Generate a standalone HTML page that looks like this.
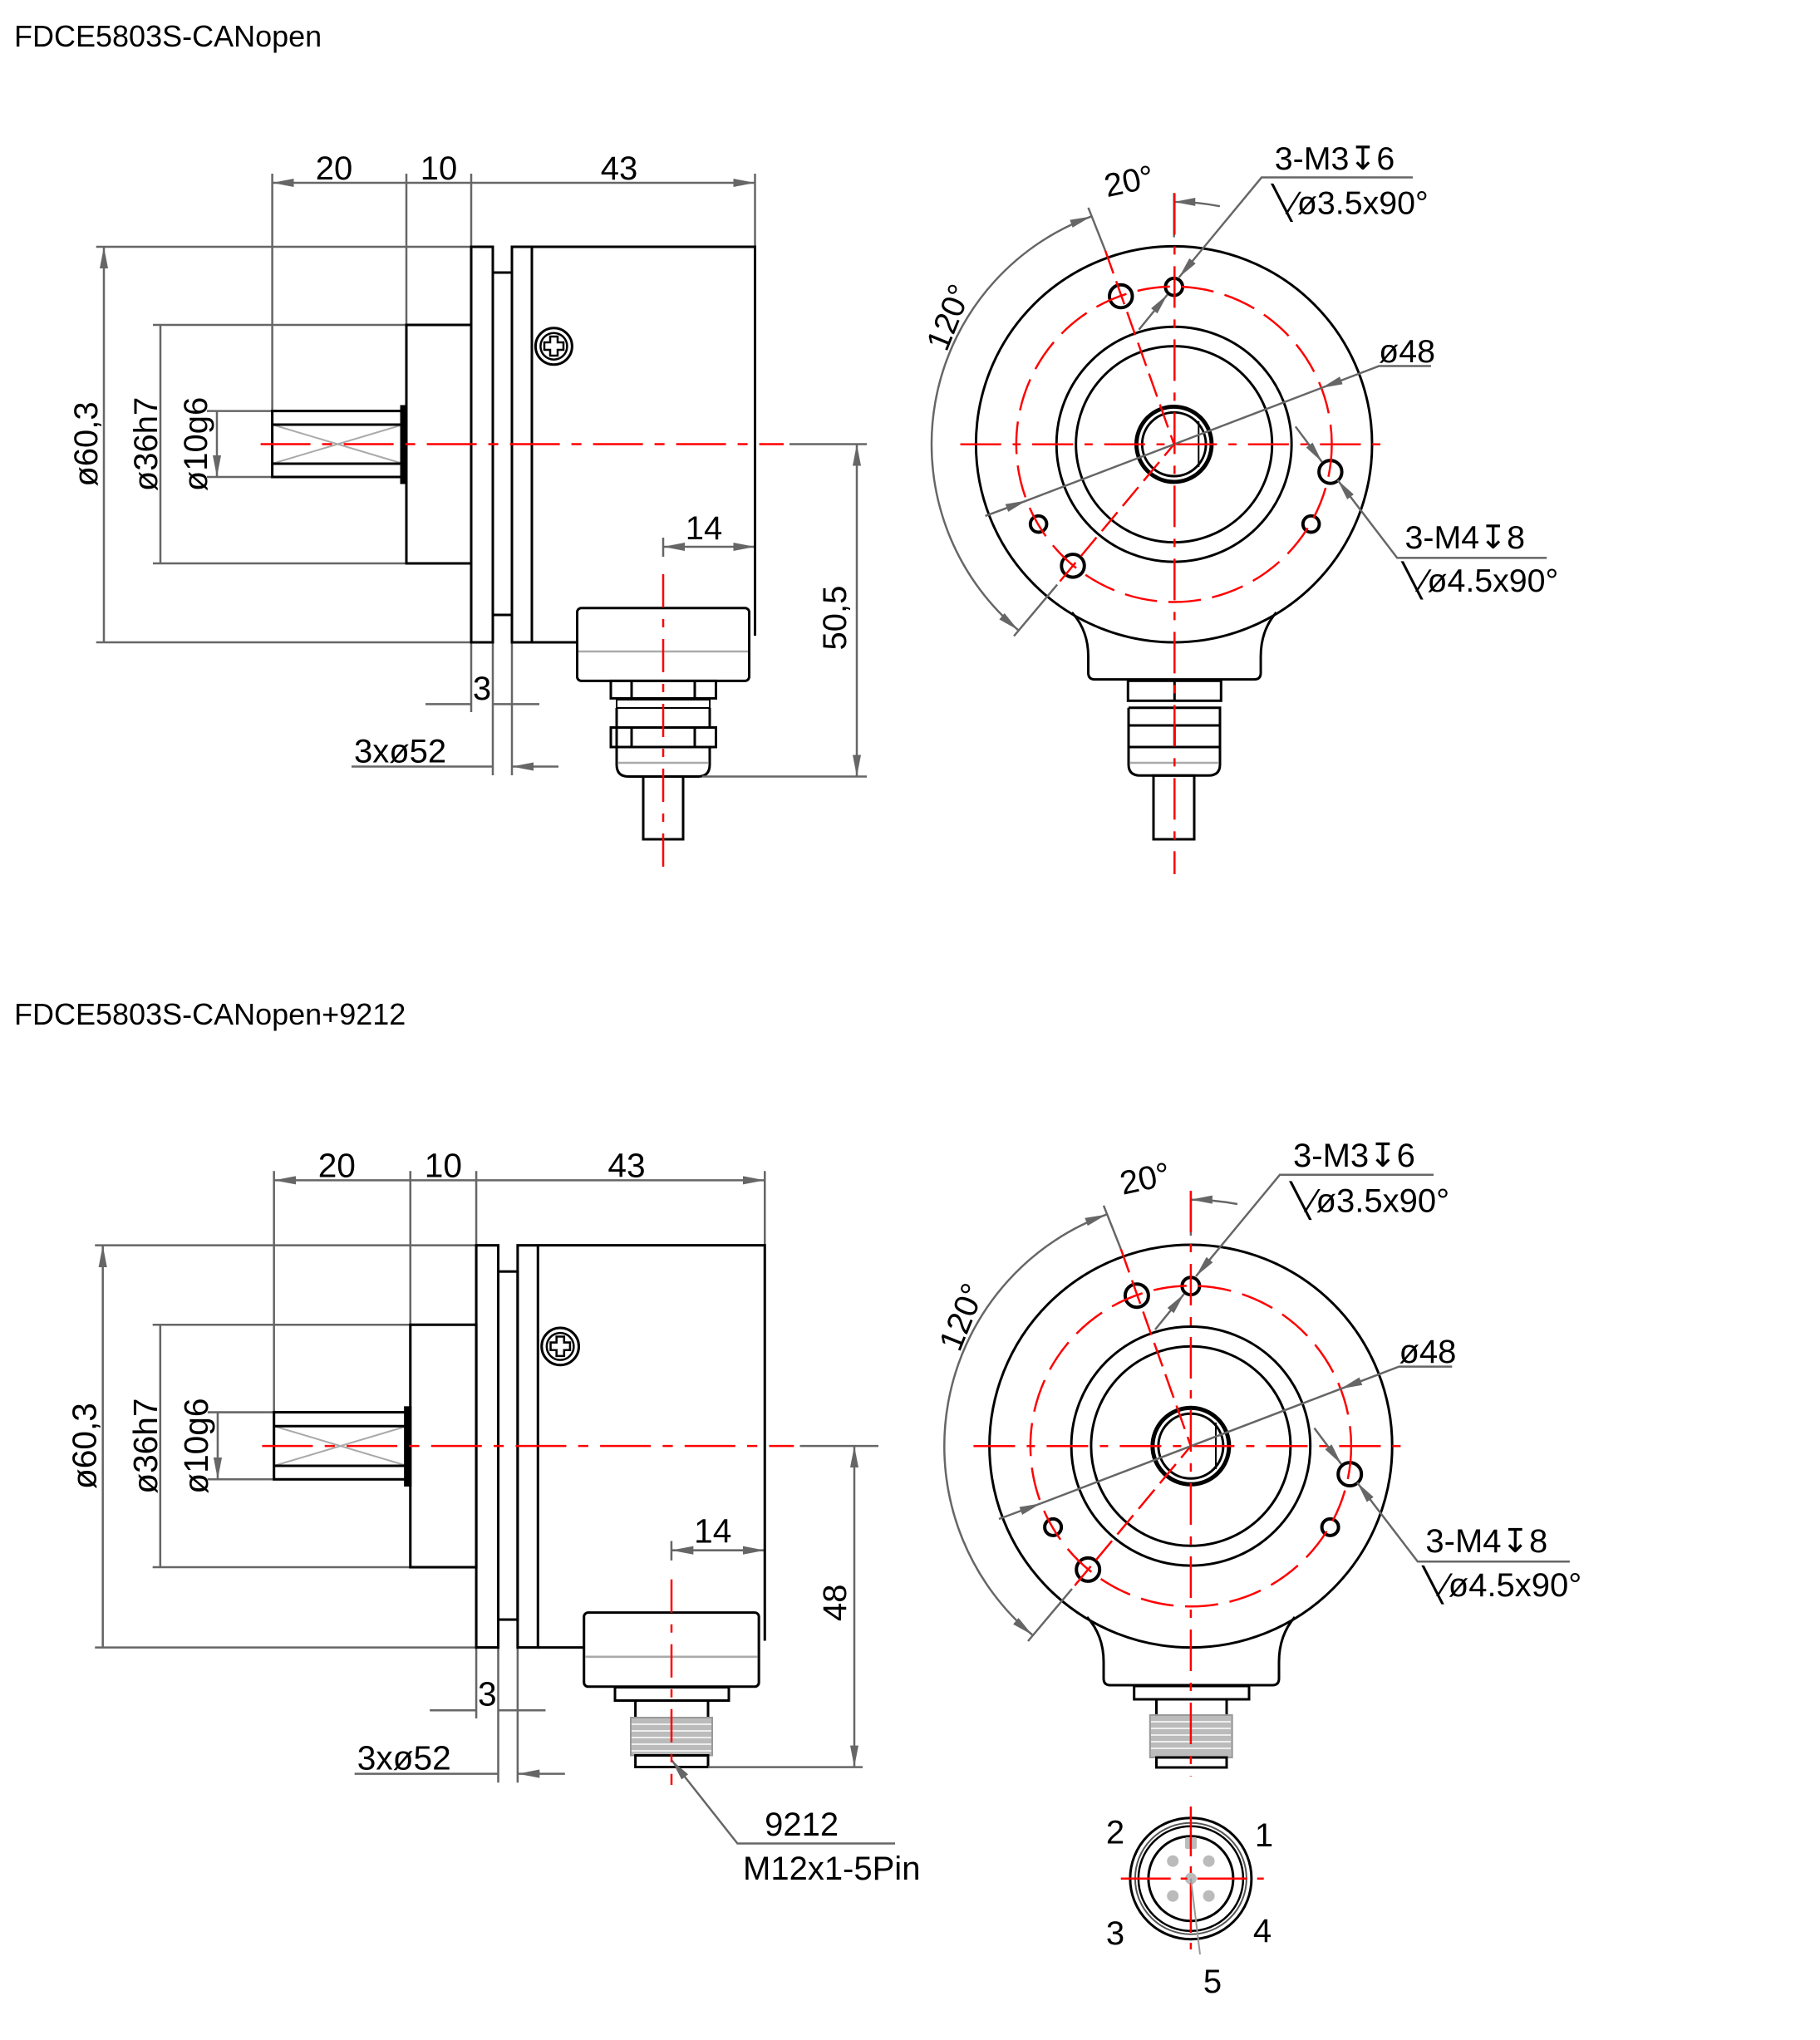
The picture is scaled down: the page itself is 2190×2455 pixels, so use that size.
<!DOCTYPE html>
<html><head><meta charset="utf-8"><style>
html,body{margin:0;padding:0;background:#fff;}
svg{display:block;}
text{font-family:"Liberation Sans Narrow","Liberation Sans",sans-serif;fill:#000;}
.t{font-family:"Liberation Sans",sans-serif;font-size:36px;}
.d{font-size:40px;}
</style></head><body>
<svg width="2190" height="2455" viewBox="0 0 2190 2455" xmlns="http://www.w3.org/2000/svg">
<defs>
<marker id="a" markerWidth="26" markerHeight="10" refX="26" refY="5" orient="auto-start-reverse" markerUnits="userSpaceOnUse"><path d="M0 0L26 5L0 10z" fill="#666"/></marker>
</defs>
<rect width="2190" height="2455" fill="#fff"/>
<text class="t" x="17" y="56">FDCE5803S-CANopen</text>
<text class="t" x="17" y="1233">FDCE5803S-CANopen+9212</text>

<!-- ========== TOP LEFT (native coords) ========== -->
<g id="topL">
<g stroke="#666" stroke-width="2.5" fill="none">
<path d="M327.6 209V494.6M489 209V391M567 209V297M908.5 209V297"/>
<path d="M327.6 220H489M489 220H567M567 220H908.5" marker-start="url(#a)" marker-end="url(#a)"/>
<path d="M115.7 297H567M115.7 773H567M184 391H489M184 678H489M249 494.6H327.6M249 574H327.6"/>
<path d="M125 297V773M193 391V678M261 494.6V574" marker-start="url(#a)" marker-end="url(#a)"/>
<path d="M567 773V857M593 773V933M616 773V933"/>
<path d="M512 847.4H567M649 847.4H593M423 922.5H593M672 922.5H616" marker-end="url(#a)"/>
<path d="M798 658H908.5" marker-start="url(#a)" marker-end="url(#a)"/>
<path d="M798 647V670M950 534.5H1043"/>
<path d="M327.6 511L485 558M327.6 558L485 511" stroke="#aaa" stroke-width="2"/>
</g>
<g stroke="#000" stroke-width="3" fill="none">
<rect x="567" y="297" width="26" height="476"/>
<rect x="593" y="328" width="23" height="412"/>
<rect x="616" y="297" width="24" height="476"/>
<path d="M640 297H908.5V765M640 773H694.5"/>
<rect x="489" y="391" width="78" height="287"/>
<rect x="327.6" y="494.6" width="157.4" height="79.4"/>
<path d="M327.6 511H485M327.6 558H485"/>
<rect x="483" y="489" width="6" height="92" fill="#000"/>
<circle cx="666.4" cy="416.7" r="22"/>
<circle cx="666.4" cy="416.7" r="16" stroke-width="2.5"/>
<path d="M662 405h9v7h7v9h-7v7h-9v-7h-7v-9h7z" stroke-width="2.5"/>
<rect x="694.5" y="731.7" width="207" height="87.7" rx="5"/>
<path d="M696 784H900" stroke="#aaa" stroke-width="2.5"/>
</g>
<path d="M313.6 534.5H943" stroke="#f00" stroke-width="2.5" stroke-dasharray="60 14 12 14"/>
<text class="d" x="402" y="216" text-anchor="middle">20</text>
<text class="d" x="528" y="216" text-anchor="middle">10</text>
<text class="d" x="745" y="216" text-anchor="middle">43</text>
<text class="d" x="847" y="649" text-anchor="middle">14</text>
<text class="d" x="580" y="842" text-anchor="middle">3</text>
<text class="d" x="426" y="917.6">3xø52</text>
<text class="d" transform="translate(117 534.5) rotate(-90)" text-anchor="middle">ø60,3</text>
<text class="d" transform="translate(189 534.5) rotate(-90)" text-anchor="middle">ø36h7</text>
<text class="d" transform="translate(249 534.5) rotate(-90)" text-anchor="middle">ø10g6</text>
</g>

<!-- top-specific left: gland, 50,5 -->
<g stroke="#000" stroke-width="3" fill="none">
<rect x="735" y="819.4" width="126.5" height="21"/>
<path d="M760 819.4V840M836 819.4V840"/>
<rect x="742" y="842" width="112" height="10" stroke-width="2"/>
<rect x="735" y="875.5" width="126.5" height="23.5"/>
<path d="M760 875.5V899M836 875.5V899"/>
<path d="M742 852V920Q742 934.5 756 934.5H840Q854 934.5 854 920V899M742 852V875.5M854 852V875.5"/>
<path d="M744 918H852" stroke="#aaa" stroke-width="2.5"/>
<rect x="774" y="934.5" width="48" height="75.5"/>
</g>
<g stroke="#666" stroke-width="2.5" fill="none">
<path d="M845 934.5H1043"/>
<path d="M1031 534.5V934.5" marker-start="url(#a)" marker-end="url(#a)"/>
</g>
<text class="d" transform="translate(1018 743.6) rotate(-90)" text-anchor="middle">50,5</text>
<path d="M798 691V1052" stroke="#f00" stroke-width="2.5" stroke-dasharray="40 14 10 14"/>

<!-- ========== BOTTOM LEFT (scaled copy) ========== -->
<g transform="matrix(1.0167 0 0 1.0167 -3.4 1196.7)">
<g stroke="#666" stroke-width="2.5" fill="none">
<path d="M327.6 209V494.6M489 209V391M567 209V297M908.5 209V297"/>
<path d="M327.6 220H489M489 220H567M567 220H908.5" marker-start="url(#a)" marker-end="url(#a)"/>
<path d="M115.7 297H567M115.7 773H567M184 391H489M184 678H489M249 494.6H327.6M249 574H327.6"/>
<path d="M125 297V773M193 391V678M261 494.6V574" marker-start="url(#a)" marker-end="url(#a)"/>
<path d="M567 773V857M593 773V933M616 773V933"/>
<path d="M512 847.4H567M649 847.4H593M423 922.5H593M672 922.5H616" marker-end="url(#a)"/>
<path d="M798 658H908.5" marker-start="url(#a)" marker-end="url(#a)"/>
<path d="M798 647V670M950 534.5H1043"/>
<path d="M327.6 511L485 558M327.6 558L485 511" stroke="#aaa" stroke-width="2"/>
</g>
<g stroke="#000" stroke-width="3" fill="none">
<rect x="567" y="297" width="26" height="476"/>
<rect x="593" y="328" width="23" height="412"/>
<rect x="616" y="297" width="24" height="476"/>
<path d="M640 297H908.5V765M640 773H694.5"/>
<rect x="489" y="391" width="78" height="287"/>
<rect x="327.6" y="494.6" width="157.4" height="79.4"/>
<path d="M327.6 511H485M327.6 558H485"/>
<rect x="483" y="489" width="6" height="92" fill="#000"/>
<circle cx="666.4" cy="416.7" r="22"/>
<circle cx="666.4" cy="416.7" r="16" stroke-width="2.5"/>
<path d="M662 405h9v7h7v9h-7v7h-9v-7h-7v-9h7z" stroke-width="2.5"/>
<rect x="694.5" y="731.7" width="207" height="87.7" rx="5"/>
<path d="M696 784H900" stroke="#aaa" stroke-width="2.5"/>
</g>
<path d="M313.6 534.5H943" stroke="#f00" stroke-width="2.5" stroke-dasharray="60 14 12 14"/>
<text class="d" x="402" y="216" text-anchor="middle">20</text>
<text class="d" x="528" y="216" text-anchor="middle">10</text>
<text class="d" x="745" y="216" text-anchor="middle">43</text>
<text class="d" x="847" y="649" text-anchor="middle">14</text>
<text class="d" x="580" y="842" text-anchor="middle">3</text>
<text class="d" x="426" y="917.6">3xø52</text>
<text class="d" transform="translate(117 534.5) rotate(-90)" text-anchor="middle">ø60,3</text>
<text class="d" transform="translate(189 534.5) rotate(-90)" text-anchor="middle">ø36h7</text>
<text class="d" transform="translate(249 534.5) rotate(-90)" text-anchor="middle">ø10g6</text>
</g>

<!-- bottom-specific left: M12 connector, 48, 9212 -->
<g stroke="#000" stroke-width="3" fill="none">
<rect x="740" y="2030.5" width="137" height="16"/>
<path d="M764.6 2046.6V2067M852 2046.6V2067"/>
<rect x="759" y="2067" width="98" height="45.5" fill="#bbb" stroke="#999" stroke-width="2"/>
<path d="M760 2075H856M760 2083H856M760 2091H856M760 2099H856M760 2107H856" stroke="#eee" stroke-width="2"/>
<rect x="764.6" y="2112.5" width="87.4" height="14"/>
</g>
<g stroke="#666" stroke-width="2.5" fill="none">
<path d="M852 2126.6H1038"/>
<path d="M1028 1740V2126.6" marker-start="url(#a)" marker-end="url(#a)"/>
<path d="M1077 2218.5H887.4L808 2118" marker-end="url(#a)"/>
</g>
<text class="d" transform="translate(1018 1928.7) rotate(-90)" text-anchor="middle">48</text>
<text class="d" x="964.6" y="2209" text-anchor="middle">9212</text>
<text class="d" x="894" y="2262">M12x1-5Pin</text>
<path d="M808 1900.7V2148" stroke="#f00" stroke-width="2.5" stroke-dasharray="40 14 10 14"/>

<!-- ========== BOTTOM RIGHT (native coords) ========== -->
<g id="R">
<g stroke="#000" stroke-width="3" fill="none">
<circle cx="1432.9" cy="1740.3" r="242.3"/>
<circle cx="1432.9" cy="1740.3" r="143.8"/>
<circle cx="1432.9" cy="1740.3" r="120"/>
<circle cx="1432.9" cy="1740.3" r="46" stroke-width="5"/>
<circle cx="1432.9" cy="1740.3" r="39"/>
<path d="M1463 1712V1768" stroke-width="2"/>
<path d="M1308 1946Q1328 1968 1328 2000V2020Q1328 2028 1336 2028H1531Q1539 2028 1539 2020V2000Q1539 1968 1558 1946"/>
<circle cx="1367.9" cy="1559.2" r="14" stroke-width="4"/>
<circle cx="1432.9" cy="1547.7" r="10.5" stroke-width="4"/>
<circle cx="1624.2" cy="1774.1" r="14" stroke-width="4"/>
<circle cx="1600.6" cy="1837.9" r="10" stroke-width="4"/>
<circle cx="1267.1" cy="1837.9" r="10" stroke-width="4"/>
<circle cx="1309.2" cy="1888.9" r="14" stroke-width="4"/>
</g>
<g stroke="#f00" stroke-width="2.5" fill="none">
<circle cx="1432.9" cy="1740.3" r="193" stroke-dasharray="40 14"/>
<path d="M1171.4 1740.3H1693" stroke-dasharray="50 14 10 14"/>
<path d="M1348.7 1503L1432.9 1740.3L1290 1912" stroke-dasharray="30 10"/>
</g>
<g stroke="#666" stroke-width="2.5" fill="none">
<path d="M1489 1449A296.6 296.6 0 0 0 1432.9 1443.7" marker-end="url(#a)"/>
<path d="M1331.5 1461.6A296.6 296.6 0 0 0 1242.2 1967.5" marker-start="url(#a)" marker-end="url(#a)"/>
<path d="M1328 1450.8L1348.7 1503M1237 1975L1290 1912M1432.9 1433V1487"/>
<path d="M1725 1413.8H1540L1439 1536" marker-end="url(#a)"/>
<path d="M1390 1600L1425 1557" marker-end="url(#a)"/>
<path d="M1747.3 1644.6H1683.5L1613.2 1671.4" marker-end="url(#a)"/>
<path d="M1202 1828L1252.6 1809.2" marker-end="url(#a)"/>
<path d="M1252.6 1809.2L1613.2 1671.4"/>
<path d="M1581.5 1718.6L1614 1762" marker-end="url(#a)"/>
<path d="M1888.9 1879.3H1705.9L1633 1784" marker-end="url(#a)"/>
</g>
<text class="d" transform="translate(1380.6 1431.6) rotate(-12)" text-anchor="middle">20°</text>
<text class="d" transform="translate(1170 1590) rotate(-68)" text-anchor="middle">120°</text>
<text class="d" x="1556" y="1404">3-M3↧6</text>
<text class="d" x="1552.8" y="1458.4">╲⁄ø3.5x90°</text>
<text class="d" x="1683.5" y="1640">ø48</text>
<text class="d" x="1715.4" y="1867.9">3-M4↧8</text>
<text class="d" x="1712" y="1920.8">╲⁄ø4.5x90°</text>
</g>

<!-- bottom-specific right connector -->
<g stroke="#000" stroke-width="3" fill="none">
<rect x="1364.7" y="2029" width="138.3" height="16"/>
<path d="M1391.5 2045V2064M1476 2045V2064"/>
<rect x="1383.8" y="2064" width="98.9" height="51" fill="#bbb" stroke="#999" stroke-width="2"/>
<path d="M1385 2072H1481M1385 2080H1481M1385 2088H1481M1385 2096H1481M1385 2104H1481" stroke="#eee" stroke-width="2"/>
<rect x="1391.5" y="2115" width="84.5" height="12"/>
</g>
<path d="M1432.9 1433V2137.6" stroke="#f00" stroke-width="2.5" stroke-dasharray="50 14 10 14"/>

<!-- pin view -->
<g stroke="#000" fill="none">
<circle cx="1432.9" cy="2260.7" r="73" stroke-width="3"/>
<circle cx="1432.9" cy="2260.7" r="67" stroke-width="2" stroke="#555"/>
<circle cx="1432.9" cy="2260.7" r="63" stroke-width="2.5"/>
<circle cx="1432.9" cy="2260.7" r="51" stroke-width="3"/>
</g>
<g fill="#bbb">
<rect x="1426" y="2211" width="14" height="14" rx="2"/>
<circle cx="1411.2" cy="2239.7" r="7"/>
<circle cx="1454.6" cy="2239.7" r="7"/>
<circle cx="1411.2" cy="2281.7" r="7"/>
<circle cx="1454.6" cy="2281.7" r="7"/>
<circle cx="1432.9" cy="2260.7" r="7"/>
</g>
<path d="M1348.7 2260.7H1522M1432.9 2174V2354" stroke="#f00" stroke-width="2.5" stroke-dasharray="60 12 8 12"/>
<path d="M1432.9 2260.7L1444 2352" stroke="#999" stroke-width="2"/>
<text class="d" x="1342" y="2218.6" text-anchor="middle">2</text>
<text class="d" x="1521" y="2222" text-anchor="middle">1</text>
<text class="d" x="1342" y="2340" text-anchor="middle">3</text>
<text class="d" x="1519" y="2337" text-anchor="middle">4</text>
<text class="d" x="1459" y="2398" text-anchor="middle">5</text>

<!-- ========== TOP RIGHT (inverse-scaled copy) ========== -->
<g transform="matrix(0.98357 0 0 0.98357 3.344 -1177.04)">
<g stroke="#000" stroke-width="3" fill="none">
<circle cx="1432.9" cy="1740.3" r="242.3"/>
<circle cx="1432.9" cy="1740.3" r="143.8"/>
<circle cx="1432.9" cy="1740.3" r="120"/>
<circle cx="1432.9" cy="1740.3" r="46" stroke-width="5"/>
<circle cx="1432.9" cy="1740.3" r="39"/>
<path d="M1463 1712V1768" stroke-width="2"/>
<path d="M1308 1946Q1328 1968 1328 2000V2020Q1328 2028 1336 2028H1531Q1539 2028 1539 2020V2000Q1539 1968 1558 1946"/>
<circle cx="1367.9" cy="1559.2" r="14" stroke-width="4"/>
<circle cx="1432.9" cy="1547.7" r="10.5" stroke-width="4"/>
<circle cx="1624.2" cy="1774.1" r="14" stroke-width="4"/>
<circle cx="1600.6" cy="1837.9" r="10" stroke-width="4"/>
<circle cx="1267.1" cy="1837.9" r="10" stroke-width="4"/>
<circle cx="1309.2" cy="1888.9" r="14" stroke-width="4"/>
</g>
<g stroke="#f00" stroke-width="2.5" fill="none">
<circle cx="1432.9" cy="1740.3" r="193" stroke-dasharray="40 14"/>
<path d="M1171.4 1740.3H1693" stroke-dasharray="50 14 10 14"/>
<path d="M1348.7 1503L1432.9 1740.3L1290 1912" stroke-dasharray="30 10"/>
</g>
<g stroke="#666" stroke-width="2.5" fill="none">
<path d="M1489 1449A296.6 296.6 0 0 0 1432.9 1443.7" marker-end="url(#a)"/>
<path d="M1331.5 1461.6A296.6 296.6 0 0 0 1242.2 1967.5" marker-start="url(#a)" marker-end="url(#a)"/>
<path d="M1328 1450.8L1348.7 1503M1237 1975L1290 1912M1432.9 1433V1487"/>
<path d="M1725 1413.8H1540L1439 1536" marker-end="url(#a)"/>
<path d="M1390 1600L1425 1557" marker-end="url(#a)"/>
<path d="M1747.3 1644.6H1683.5L1613.2 1671.4" marker-end="url(#a)"/>
<path d="M1202 1828L1252.6 1809.2" marker-end="url(#a)"/>
<path d="M1252.6 1809.2L1613.2 1671.4"/>
<path d="M1581.5 1718.6L1614 1762" marker-end="url(#a)"/>
<path d="M1888.9 1879.3H1705.9L1633 1784" marker-end="url(#a)"/>
</g>
<text class="d" transform="translate(1380.6 1431.6) rotate(-12)" text-anchor="middle">20°</text>
<text class="d" transform="translate(1170 1590) rotate(-68)" text-anchor="middle">120°</text>
<text class="d" x="1556" y="1404">3-M3↧6</text>
<text class="d" x="1552.8" y="1458.4">╲⁄ø3.5x90°</text>
<text class="d" x="1683.5" y="1640">ø48</text>
<text class="d" x="1715.4" y="1867.9">3-M4↧8</text>
<text class="d" x="1712" y="1920.8">╲⁄ø4.5x90°</text>
</g>

<!-- top-specific right gland -->
<g stroke="#000" stroke-width="3" fill="none">
<rect x="1357.3" y="819.3" width="112" height="24"/>
<path d="M1413.3 819.3V843.3"/>
<rect x="1358" y="873" width="110" height="26"/>
<path d="M1413.3 873V899"/>
<path d="M1358 851.7V920Q1358 933.3 1372 933.3H1454Q1468 933.3 1468 920V851.7H1358"/>
<path d="M1360 918H1466" stroke="#aaa" stroke-width="2.5"/>
<rect x="1388" y="933.3" width="49" height="76.7"/>
</g>
<path d="M1413.3 232.4V1052" stroke="#f00" stroke-width="2.5" stroke-dasharray="50 14 10 14"/>
</svg>
</body></html>
